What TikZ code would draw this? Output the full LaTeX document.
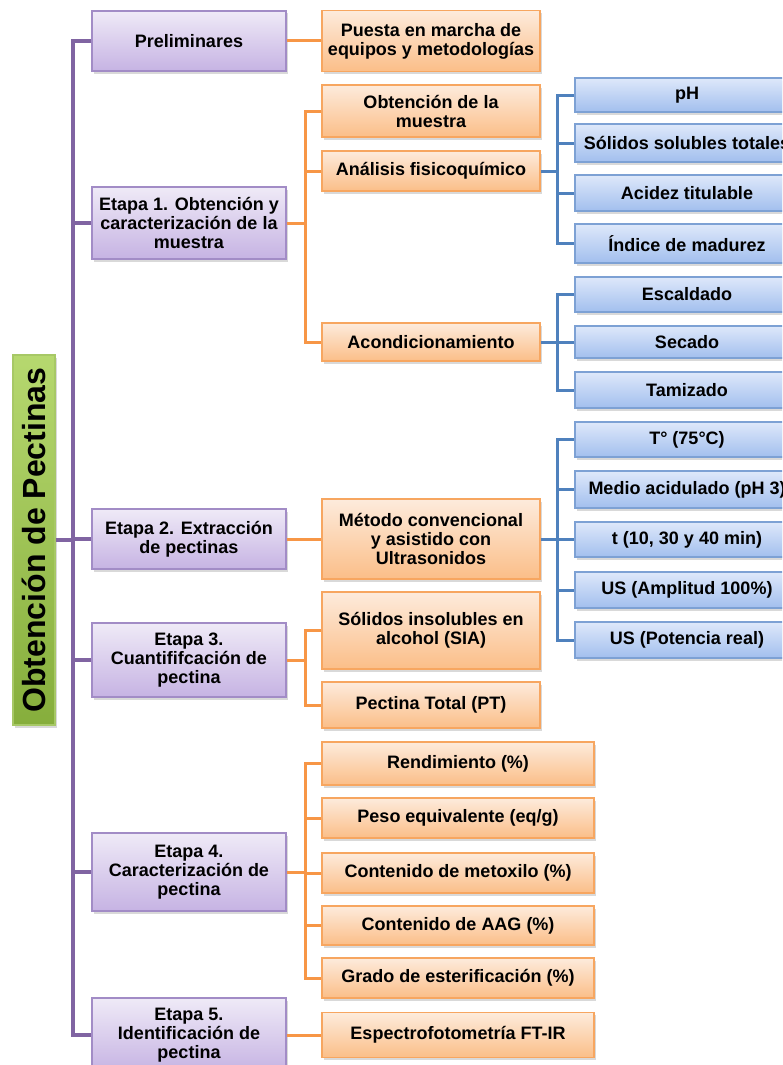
\documentclass[tikz,border=0pt]{standalone}
\usepackage{fontspec}
\setmainfont{Liberation Sans}
\usetikzlibrary{shadows}
\definecolor{pline}{HTML}{8064A2}
\definecolor{oline}{HTML}{F79646}
\definecolor{bline}{HTML}{4F81BD}
\definecolor{ptop}{HTML}{EFEAF7}
\definecolor{pbot}{HTML}{C6B3E3}
\definecolor{pbord}{HTML}{A28CC6}
\definecolor{otop}{HTML}{FDEBDC}
\definecolor{obot}{HTML}{FBBE88}
\definecolor{obord}{HTML}{F7A660}
\definecolor{btop}{HTML}{DEE8FA}
\definecolor{bbot}{HTML}{A2BFEE}
\definecolor{bbord}{HTML}{7DA1D4}
\definecolor{gtop}{HTML}{B6D86F}
\definecolor{gbot}{HTML}{86AE3C}
\definecolor{gbord}{HTML}{A7C866}
\begin{document}
\begin{tikzpicture}[x=1pt,y=-1pt,
  font=\bfseries\fontsize{18}{19}\selectfont,
  box/.style={draw, line width=1.2pt, align=center, inner sep=2pt,
    drop shadow={shadow xshift=1.5pt, shadow yshift=-2.5pt, opacity=0.3}},
  pbox/.style={box, draw=pbord, top color=ptop, bottom color=pbot, minimum width=194},
  obox/.style={box, draw=obord, top color=otop, bottom color=obot, minimum width=218},
  owbox/.style={box, draw=obord, top color=otop, bottom color=obot, minimum width=272},
  bbox/.style={box, draw=bbord, top color=btop, bottom color=bbot, minimum width=224},
  gbox/.style={box, draw=gbord, top color=gtop, bottom color=gbot},
  pl/.style={draw=pline, line width=3.2pt},
  ol/.style={draw=oline, line width=3pt},
  bl/.style={draw=bline, line width=3pt}]
\useasboundingbox (0,0) rectangle (782,1065);
\clip (0,0) rectangle (782,1065);

% root
\node[gbox, rotate=90, minimum width=370, minimum height=42,
  font=\bfseries\fontsize{32}{34}\selectfont] (root) at (34,540) {Obtención de Pectinas};

% purple stages
\node[pbox, minimum height=60] (prelim) at (189,41) {Preliminares};
\node[pbox, minimum height=72] (e1) at (189,223) {Etapa 1. Obtención y\\caracterización de la\\muestra};
\node[pbox, minimum height=60] (e2) at (189,539) {Etapa 2. Extracción\\de pectinas};
\node[pbox, minimum height=74] (e3) at (189,660) {Etapa 3.\\Cuantififcación de\\pectina};
\node[pbox, minimum height=78] (e4) at (189,872) {Etapa 4.\\Caracterización de\\pectina};
\node[pbox, minimum height=74] (e5) at (189,1035) {Etapa 5.\\Identificación de\\pectina};

% orange items
\node[obox, minimum height=61] (puesta) at (431,41) {Puesta en marcha de\\equipos y metodologías};
\node[obox, minimum height=52] (obt) at (431,111) {Obtención de la\\muestra};
\node[obox, minimum height=40] (anal) at (431,171) {Análisis fisicoquímico};
\node[obox, minimum height=38] (acond) at (431,342) {Acondicionamiento};
\node[obox, minimum height=80] (metodo) at (431,539) {Método convencional\\y asistido con\\Ultrasonidos};
\node[obox, minimum height=77] (sia) at (431,630.5) {Sólidos insolubles en\\alcohol (SIA)};
\node[obox, minimum height=46] (pt) at (431,705) {Pectina Total (PT)};
\node[owbox, minimum height=43] (rend) at (458,763.5) {Rendimiento (\%)};
\node[owbox, minimum height=40] (peso) at (458,818) {Peso equivalente (eq/g)};
\node[owbox, minimum height=40] (meto) at (458,873) {Contenido de metoxilo (\%)};
\node[owbox, minimum height=39] (aag) at (458,925.5) {Contenido de AAG (\%)};
\node[owbox, minimum height=40] (grado) at (458,978) {Grado de esterificación (\%)};
\node[owbox, minimum height=45] (espec) at (458,1035) {Espectrofotometría FT-IR};

% blue items
\node[bbox, minimum height=34] (ph) at (687,95) {pH};
\node[bbox, minimum height=38] (sst) at (687,143) {Sólidos solubles totales};
\node[bbox, minimum height=36] (acidez) at (687,193) {Acidez titulable};
\node[bbox, minimum height=39] (indice) at (687,243.5) {Índice de madurez};
\node[bbox, minimum height=35] (escal) at (687,294.5) {Escaldado};
\node[bbox, minimum height=32] (secado) at (687,342) {Secado};
\node[bbox, minimum height=36] (tamiz) at (687,390) {Tamizado};
\node[bbox, minimum height=35] (temp) at (687,439.5) {T° (75°C)};
\node[bbox, minimum height=37] (medio) at (687,489.5) {Medio acidulado (pH 3)};
\node[bbox, minimum height=35] (tiempo) at (687,539.5) {t (10, 30 y 40 min)};
\node[bbox, minimum height=36] (usamp) at (687,590) {US (Amplitud 100\%)};
\node[bbox, minimum height=36] (uspot) at (687,640) {US (Potencia real)};

% bus coordinates
\coordinate (tk) at (73,0);
\coordinate (ob) at (305,0);
\coordinate (bb) at (557,0);

% purple connectors
\draw[pl] (prelim.west) -- (prelim.west -| tk) -- (e5.west -| tk) -- (e5.west);
\foreach \n in {e1,e2,e3,e4} \draw[pl] (\n.west) -- (\n.west -| tk);
\draw[pl] (root.south) -- (root.south -| tk);

% orange connectors
\draw[ol] (prelim.east) -- (puesta.west);
\draw[ol] (e1.east) -- (e1.east -| ob);
\draw[ol] (obt.west) -- (obt.west -| ob) -- (acond.west -| ob) -- (acond.west);
\draw[ol] (anal.west) -- (anal.west -| ob);
\draw[ol] (e2.east) -- (metodo.west);
\draw[ol] (e3.east) -- (e3.east -| ob);
\draw[ol] (sia.west) -- (sia.west -| ob) -- (pt.west -| ob) -- (pt.west);
\draw[ol] (e4.east) -- (e4.east -| ob);
\draw[ol] (rend.west) -- (rend.west -| ob) -- (grado.west -| ob) -- (grado.west);
\foreach \n in {peso,meto,aag} \draw[ol] (\n.west) -- (\n.west -| ob);
\draw[ol] (e5.east) -- (espec.west);

% blue connectors
\draw[bl] (anal.east) -- (anal.east -| bb);
\draw[bl] (ph.west) -- (ph.west -| bb) -- (indice.west -| bb) -- (indice.west);
\foreach \n in {sst,acidez} \draw[bl] (\n.west) -- (\n.west -| bb);
\draw[bl] (acond.east) -- (acond.east -| bb);
\draw[bl] (escal.west) -- (escal.west -| bb) -- (tamiz.west -| bb) -- (tamiz.west);
\draw[bl] (secado.west) -- (secado.west -| bb);
\draw[bl] (metodo.east) -- (metodo.east -| bb);
\draw[bl] (temp.west) -- (temp.west -| bb) -- (uspot.west -| bb) -- (uspot.west);
\foreach \n in {medio,tiempo,usamp} \draw[bl] (\n.west) -- (\n.west -| bb);
\end{tikzpicture}
\end{document}
